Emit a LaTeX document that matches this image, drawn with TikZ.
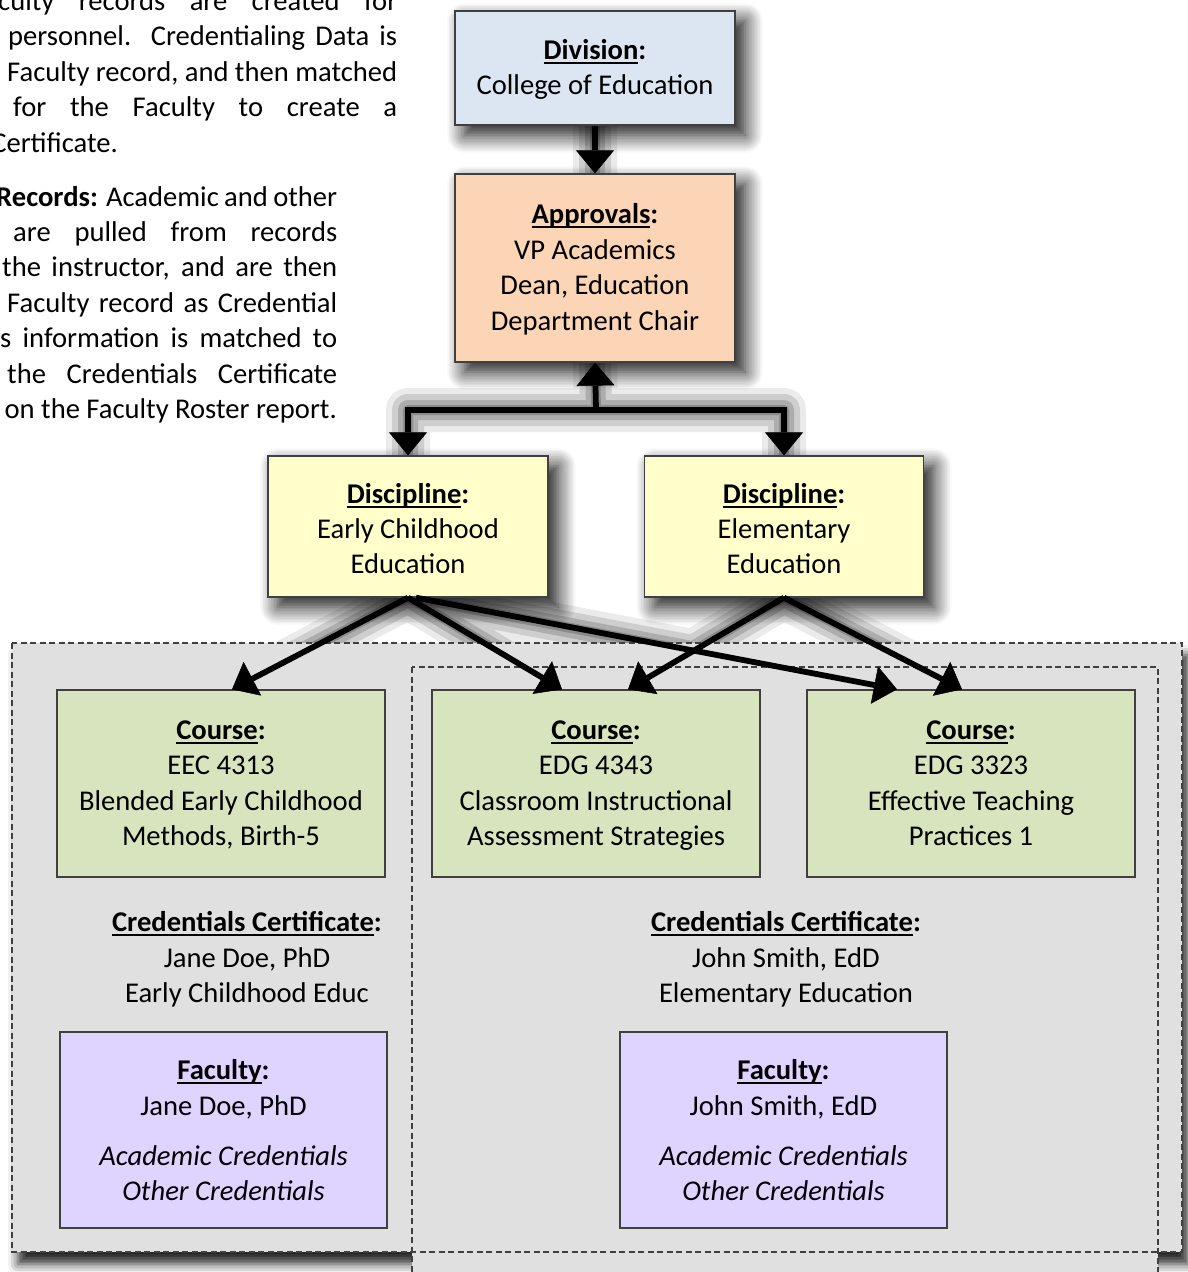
\documentclass[tikz,border=0pt]{standalone}
\usepackage{fontspec}
\setmainfont{Carlito}
\usetikzlibrary{arrows.meta,shadows.blur,calc}
\definecolor{divc}{HTML}{DCE6F2}
\definecolor{appc}{HTML}{FBD5B5}
\definecolor{disc}{HTML}{FFFFCC}
\definecolor{crsc}{HTML}{D7E4BD}
\definecolor{facc}{HTML}{DFD3FF}
\definecolor{bgc}{HTML}{E0E0E0}
\definecolor{bordc}{HTML}{404040}
\newlength\ulw
\newcommand\ulin[1]{\settowidth\ulw{#1}#1\hspace{-\ulw}\rule[-4.5pt]{\ulw}{2pt}}
\newcommand\fs{\fontsize{28.6pt}{35.4pt}\selectfont}
\newcommand\ts[1]{\rule{0pt}{#1}}
\tikzset{
  box/.style={draw=bordc, line width=1.3pt, align=center, inner sep=0pt, font=\fs},
  shad/.style={blur shadow={shadow xshift=10pt, shadow yshift=-10pt, shadow blur radius=18pt, shadow blur steps=12, shadow opacity=95}},
  arr/.style={line width=5.8pt, -{Triangle[width=38pt,length=23pt,line width=0.5pt,fill=black]}},
  txt/.style={inner sep=0pt, font=\fs},
  dashbox/.style={draw=bordc, line width=1.4pt, dash pattern=on 6pt off 3.5pt}
}
\begin{document}
\begin{tikzpicture}[x=1pt,y=-1pt]
\useasboundingbox (0,0) rectangle (1188,1272);
% soft shadows under the upper connectors
\coordinate (sA) at (595,125);
\coordinate (sB) at (595,174);
\coordinate (sC) at (595,362);
\coordinate (sJ) at (596,410);
\coordinate (sD) at (408,456);
\coordinate (sE) at (784,456);
\coordinate (sF) at (408,597);
\coordinate (sG) at (784,597);
\coordinate (sH) at (232,690);
\coordinate (sI) at (562,690);
\coordinate (sK) at (897,690);
\coordinate (sL) at (628,690);
\coordinate (sM) at (962,690);
\foreach \w/\o in {44/0.08, 32/0.12, 20/0.16, 10/0.2} {
  \draw[line width=\w pt, line cap=round, line join=round, draw=black, opacity=\o, shift={(9,9)}]
    (sA) -- (sB) (sC) -- (sJ) (sD) |- (sJ) -| (sE)
    (sF) -- (sH) (sF) -- (sI) (sF) -- (sK) (sG) -- (sL) (sG) -- (sM);
}
% gray areas
\path[fill=bgc, blur shadow={shadow xshift=6pt, shadow yshift=-12pt, shadow blur radius=10pt, shadow opacity=85}] (12,643) rectangle (1182,1252);
\path[fill=bgc, dashbox] (412,667) rectangle (1158,1300);
\draw[dashbox] (12,643) rectangle (1182,1252);
% left paragraph text
\node[txt, anchor=base west] (p1) at (-2,10) {\makebox[399pt][s]{culty records are created for}};
\node[txt, anchor=base west] (p2) at (8,45.5) {\makebox[389pt][s]{personnel. Credentialing Data is}};
\node[txt, anchor=base west] (p3) at (7,81) {\makebox[390pt][s]{Faculty record, and then matched}};
\node[txt, anchor=base west] (p4) at (13,116.5) {\makebox[384pt][s]{for the Faculty to create a}};
\node[txt, anchor=base east] (p5) at (118,152) {Certificate.};
\node[txt, anchor=base west] (q1) at (-4,206) {\makebox[341pt][s]{\textbf{Records:} Academic and other}};
\node[txt, anchor=base west] (q2) at (13,241.4) {\makebox[324pt][s]{are pulled from records}};
\node[txt, anchor=base west] (q3) at (2,276.8) {\makebox[335pt][s]{the instructor, and are then}};
\node[txt, anchor=base west] (q4) at (7,312.2) {\makebox[330pt][s]{Faculty record as Credential}};
\node[txt, anchor=base west] (q5) at (0,347.6) {\makebox[337pt][s]{s information is matched to}};
\node[txt, anchor=base west] (q6) at (7,383) {\makebox[330pt][s]{the Credentials Certificate}};
\node[txt, anchor=base east] (q7) at (337,418.4) {on the Faculty Roster report.};
% upper boxes
\node[box, shad, fill=divc, minimum width=280pt, minimum height=114pt] (div) at (595,68)
  {\ts{28.8pt}\textbf{\ulin{Division}:}\\College of Education\strut};
\node[box, shad, fill=appc, minimum width=280pt, minimum height=188pt] (appr) at (595,268)
  {\ts{28.8pt}\textbf{\ulin{Approvals}:}\\VP Academics\\Dean, Education\\Department Chair\strut};
\node[box, shad, fill=disc, minimum width=280pt, minimum height=141pt] (d1) at (408,526.5)
  {\ts{34.8pt}\textbf{\ulin{Discipline}:}\\Early Childhood\\Education\strut};
\node[box, shad, fill=disc, minimum width=279pt, minimum height=141pt] (d2) at (784,526.5)
  {\ts{34.8pt}\textbf{\ulin{Discipline}:}\\Elementary\\Education\strut};
% courses
\node[box, fill=crsc, minimum width=328pt, minimum height=187pt] (c1) at (221,783.5)
  {\ts{28.8pt}\textbf{\ulin{Course}:}\\EEC 4313\\Blended Early Childhood\\Methods, Birth-5\strut};
\node[box, fill=crsc, minimum width=328pt, minimum height=187pt] (c2) at (596,783.5)
  {\ts{28.8pt}\textbf{\ulin{Course}:}\\EDG 4343\\Classroom Instructional\\Assessment Strategies\strut};
\node[box, fill=crsc, minimum width=328pt, minimum height=187pt] (c3) at (971,783.5)
  {\ts{28.8pt}\textbf{\ulin{Course}:}\\EDG 3323\\Effective Teaching\\Practices 1\strut};
% certificates
\node[txt, align=center] (cert1) at (247,960)
  {\strut\textbf{\ulin{Credentials Certificate}:}\\Jane Doe, PhD\\Early Childhood Educ\strut};
\node[txt, align=center] (cert2) at (786,960)
  {\strut\textbf{\ulin{Credentials Certificate}:}\\John Smith, EdD\\Elementary Education\strut};
% faculty
\node[box, fill=facc, minimum width=327pt, minimum height=196pt] (f1) at (223.5,1130)
  {\ts{30.8pt}\textbf{\ulin{Faculty}:}\\Jane Doe, PhD\\[14.6pt]\textit{Academic Credentials}\\\textit{Other Credentials}\strut};
\node[box, fill=facc, minimum width=327pt, minimum height=196pt] (f2) at (783.5,1130)
  {\ts{30.8pt}\textbf{\ulin{Faculty}:}\\John Smith, EdD\\[14.6pt]\textit{Academic Credentials}\\\textit{Other Credentials}\strut};
% connectors
\coordinate (j) at (596,410);
\draw[arr] (div.south) -- (appr.north);
\draw[arr] (j) -- (appr.south);
\draw[arr] (j) -| (d1.north);
\draw[arr] (j) -| (d2.north);
\draw[arr] (d1.south) -- ([xshift=11pt]c1.north);
\draw[arr] (d1.south) -- ([xshift=-34pt]c2.north);
\draw[arr] ([xshift=8pt]d1.south) -- ([xshift=-74pt]c3.north);
\draw[arr] (d2.south) -- ([xshift=32pt]c2.north);
\draw[arr] (d2.south) -- ([xshift=-9pt]c3.north);
\end{tikzpicture}
\end{document}
